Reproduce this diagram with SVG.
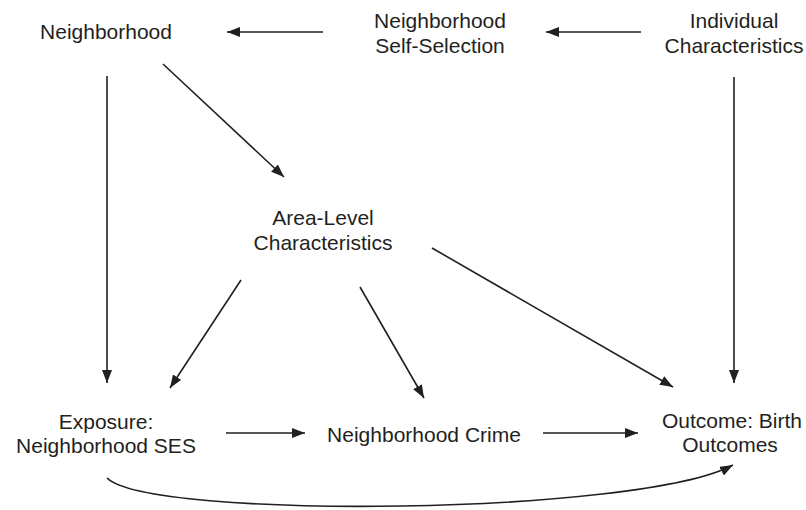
<svg xmlns="http://www.w3.org/2000/svg" width="806" height="510" viewBox="0 0 806 510">
<style>
text{font-family:"Liberation Sans",Arial,sans-serif;font-size:21px;fill:#231f20;text-anchor:middle}
.c{stroke:#231f20;stroke-width:1.6;fill:none;marker-end:url(#ah)}
</style>
<defs>
<marker id="ah" markerUnits="userSpaceOnUse" markerWidth="13" markerHeight="10" refX="13" refY="5" orient="auto">
<path d="M0,0 L13,5 L0,10 z" fill="#231f20"/>
</marker>
</defs>
<rect width="806" height="510" fill="#fff"/>
<g id="connectors">
<line class="c" x1="323" y1="32" x2="227" y2="32"/>
<line class="c" x1="641" y1="32" x2="546" y2="32"/>
<line class="c" x1="107" y1="76" x2="107" y2="383"/>
<line class="c" x1="163" y1="64" x2="284" y2="177"/>
<line class="c" x1="734" y1="77" x2="734" y2="383"/>
<line class="c" x1="241" y1="280" x2="170" y2="388"/>
<line class="c" x1="360" y1="287" x2="424" y2="398"/>
<line class="c" x1="432" y1="248" x2="673" y2="387"/>
<line class="c" x1="226" y1="433" x2="305" y2="433"/>
<line class="c" x1="543" y1="433" x2="638" y2="433"/>
<path class="c" d="M107,478 C150,520 640,515 733,465"/>
</g>
<g id="neighborhood"><text x="106" y="39">Neighborhood</text></g>
<g id="self-selection"><text x="440" y="28">Neighborhood</text><text x="440" y="53">Self-Selection</text></g>
<g id="individual"><text x="734" y="28">Individual</text><text x="734" y="53">Characteristics</text></g>
<g id="area-level"><text x="323" y="225">Area-Level</text><text x="323" y="250">Characteristics</text></g>
<g id="exposure"><text x="106" y="429">Exposure:</text><text x="106" y="453">Neighborhood SES</text></g>
<g id="crime"><text x="424" y="442">Neighborhood Crime</text></g>
<g id="outcome"><text x="732" y="428">Outcome: Birth</text><text x="730" y="452">Outcomes</text></g>
</svg>
